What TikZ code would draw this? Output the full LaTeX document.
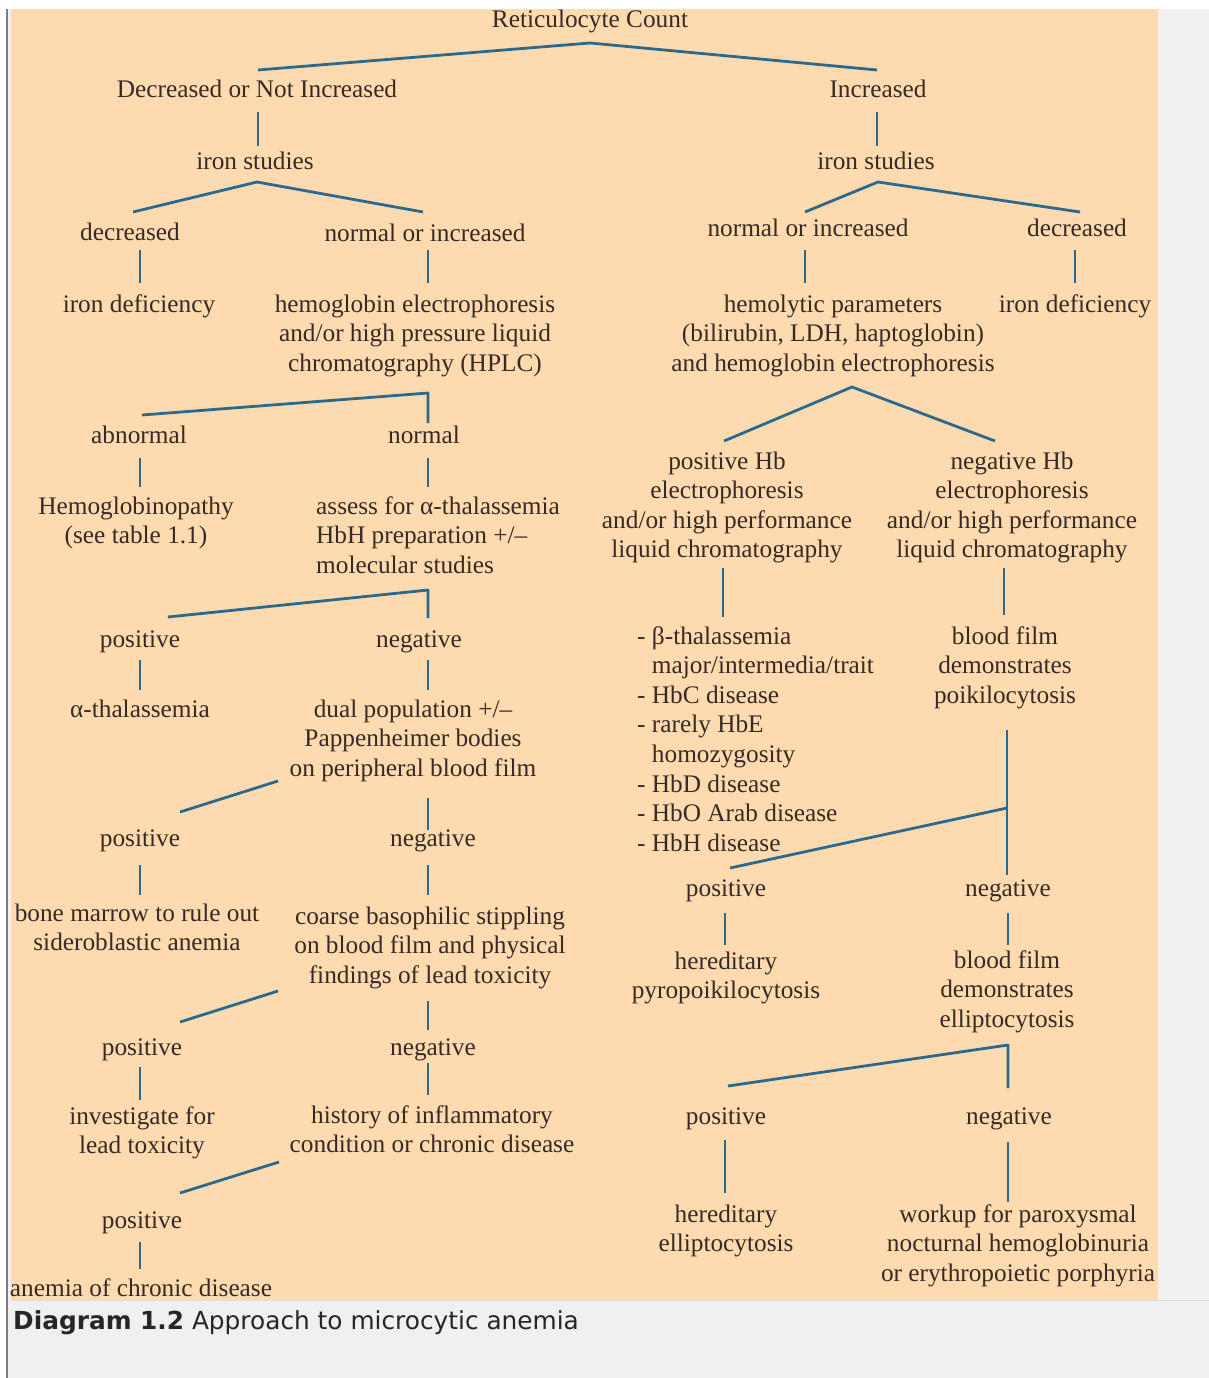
\documentclass[tikz,border=0pt]{standalone}
\usepackage{fontspec}
\setmainfont{Liberation Serif}
\newfontfamily\capfont{DejaVu Sans}
\definecolor{panel}{RGB}{253,218,176}
\definecolor{ink}{RGB}{55,42,36}
\definecolor{linecol}{RGB}{44,106,140}
\definecolor{pagegrey}{RGB}{240,240,240}
\definecolor{bordergrey}{RGB}{125,125,125}
\definecolor{sepgrey}{RGB}{220,220,220}
\begin{document}
\begin{tikzpicture}[x=1pt,y=-1pt,
  lbl/.style={font=\fontsize{25.3}{29.6}\selectfont, text=ink, inner sep=0pt, anchor=base, align=center},
  lbll/.style={lbl, align=left, anchor=base west},
  link/.style={draw=linecol, line width=2.8pt, line join=round}]
% page and panel
\useasboundingbox (0,0) rectangle (1209,1378);
\fill[white] (0,0) rectangle (1209,1378);
\fill[pagegrey] (8,9) rectangle (1209,1378);
\fill[panel] (11,9) rectangle (1158,1300);
\draw[sepgrey, line width=1pt] (11,1300.5) -- (1209,1300.5);
\draw[bordergrey, line width=2pt] (7,9) -- (7,1378);

% nodes (base anchor = baseline of the last line)
\node[lbl] (root) at (590,28) {Reticulocyte Count};
\node[lbl] (dni) at (257,98) {Decreased or Not Increased};
\node[lbl] (inc) at (878,98) {Increased};
\node[lbl] (ironL) at (255,169) {iron studies};
\node[lbl] (ironR) at (876,169) {iron studies};
\node[lbl] (decL) at (130,240) {decreased};
\node[lbl] (noiL) at (425,241) {normal or increased};
\node[lbl] (noiR) at (808,236) {normal or increased};
\node[lbl] (decR) at (1077,236) {decreased};
\node[lbl] (idL) at (139,312) {iron deficiency};
\node[lbl] (hplc) at (415,371.2) {hemoglobin electrophoresis\\and/or high pressure liquid\\chromatography (HPLC)};
\node[lbl] (hemo) at (833,371.2) {hemolytic parameters\\(bilirubin, LDH, haptoglobin)\\and hemoglobin electrophoresis};
\node[lbl] (idR) at (1075,312) {iron deficiency};
\node[lbl] (abn) at (139,443) {abnormal};
\node[lbl] (norm) at (424,443) {normal};
\node[lbl] (hbpathy) at (136,543.6) {Hemoglobinopathy\\(see table 1.1)};
\node[lbll] (assess) at (316,573.2) {assess for α-thalassemia\\HbH preparation +/–\\molecular studies};
\node[lbl] (posHb) at (727,557.8) {positive Hb\\electrophoresis\\and/or high performance\\liquid chromatography};
\node[lbl] (negHb) at (1012,557.8) {negative Hb\\electrophoresis\\and/or high performance\\liquid chromatography};
\node[lbl] (pos1) at (140,647) {positive};
\node[lbl] (neg1) at (419,647) {negative};
\node[lbl] (athal) at (140,717) {α-thalassemia};
\node[lbl] (dual) at (413,776.2) {dual population +/–\\Pappenheimer bodies\\on peripheral blood film};
\node[lbll] (list) at (637,851.2) {- β-thalassemia\\\phantom{- }major/intermedia/trait\\- HbC disease\\- rarely HbE\\\phantom{- }homozygosity\\- HbD disease\\- HbO Arab disease\\- HbH disease};
\node[lbl] (poik) at (1005,703.2) {blood film\\demonstrates\\poikilocytosis};
\node[lbl] (pos2) at (140,846) {positive};
\node[lbl] (neg2) at (433,846) {negative};
\node[lbl] (bone) at (137,950.6) {bone marrow to rule out\\sideroblastic anemia};
\node[lbl] (coarse) at (430,983.2) {coarse basophilic stippling\\on blood film and physical\\findings of lead toxicity};
\node[lbl] (posR1) at (726,896) {positive};
\node[lbl] (negR1) at (1008,896) {negative};
\node[lbl] (hpp) at (726,998.6) {hereditary\\pyropoikilocytosis};
\node[lbl] (bfe) at (1007,1027.2) {blood film\\demonstrates\\elliptocytosis};
\node[lbl] (pos3) at (142,1055) {positive};
\node[lbl] (neg3) at (433,1055) {negative};
\node[lbl] (invest) at (142,1153.6) {investigate for\\lead toxicity};
\node[lbl] (hist) at (432,1152.6) {history of inflammatory\\condition or chronic disease};
\node[lbl] (posR2) at (726,1124) {positive};
\node[lbl] (negR2) at (1009,1124) {negative};
\node[lbl] (he) at (726,1251.6) {hereditary\\elliptocytosis};
\node[lbl] (workup) at (1018,1281.2) {workup for paroxysmal\\nocturnal hemoglobinuria\\or erythropoietic porphyria};
\node[lbl] (pos4) at (142,1228) {positive};
\node[lbl] (acd) at (141,1296) {anemia of chronic disease};

\node[font=\capfont\fontsize{24.8}{28}\selectfont, text=black!85, anchor=base west, inner sep=0pt] (cap) at (13,1329) {\textbf{Diagram 1.2} Approach to microcytic anemia};

% connectors
\draw[link] ([shift={(1,-28)}]dni.base) -- ([shift={(0,15)}]root.base) -- ([shift={(-1,-28)}]inc.base);
\draw[link] ([shift={(1,14)}]dni.base) -- ([shift={(3,-23)}]ironL.base);
\draw[link] ([shift={(-1,14)}]inc.base) -- ([shift={(1,-23)}]ironR.base);
\draw[link] ([shift={(3,-28)}]decL.base) -- ([shift={(2,13)}]ironL.base) -- ([shift={(-2,-29)}]noiL.base);
\draw[link] ([shift={(-3,-24)}]noiR.base) -- ([shift={(2,13)}]ironR.base) -- ([shift={(3,-24)}]decR.base);
\draw[link] ([shift={(10,10)}]decL.base) -- ([shift={(1,-29)}]idL.base);
\draw[link] ([shift={(3,9)}]noiL.base) -- ([shift={(13,-88.2)}]hplc.base);
\draw[link] ([shift={(-3,14)}]noiR.base) -- ([shift={(-28,-88.2)}]hemo.base);
\draw[link] ([shift={(-2,14)}]decR.base) -- ([shift={(0,-29)}]idR.base);
\draw[link] ([shift={(3,-28)}]abn.base) -- ([shift={(13,21.8)}]hplc.base) -- ([shift={(4,-20)}]norm.base);
\draw[link] ([shift={(1,15)}]abn.base) -- ([shift={(4,-56.6)}]hbpathy.base);
\draw[link] ([shift={(4,15)}]norm.base) -- ([shift={(112,-86.2)}]assess.base west);
\draw[link] ([shift={(28,-30)}]pos1.base) -- ([shift={(112,16.8)}]assess.base west) -- ([shift={(9,-29)}]neg1.base);
\draw[link] ([shift={(0,13)}]pos1.base) -- ([shift={(0,-27)}]athal.base);
\draw[link] ([shift={(9,13)}]neg1.base) -- ([shift={(15,-86.2)}]dual.base);
\draw[link] ([shift={(-135,4.8)}]dual.base) -- ([shift={(40,-34)}]pos2.base);
\draw[link] ([shift={(15,21.8)}]dual.base) -- ([shift={(-5,-16)}]neg2.base);
\draw[link] ([shift={(0,19)}]pos2.base) -- ([shift={(3,-55.6)}]bone.base);
\draw[link] ([shift={(-5,19)}]neg2.base) -- ([shift={(-2,-88.2)}]coarse.base);
\draw[link] ([shift={(-152,7.8)}]coarse.base) -- ([shift={(38,-33)}]pos3.base);
\draw[link] ([shift={(-2,17.8)}]coarse.base) -- ([shift={(-5,-25)}]neg3.base);
\draw[link] ([shift={(-2,12)}]pos3.base) -- ([shift={(-2,-53.6)}]invest.base);
\draw[link] ([shift={(-5,8)}]neg3.base) -- ([shift={(-4,-57.6)}]hist.base);
\draw[link] ([shift={(-153,9.4)}]hist.base) -- ([shift={(38,-35)}]pos4.base);
\draw[link] ([shift={(-2,14)}]pos4.base) -- ([shift={(-1,-27)}]acd.base);
% right branch
\draw[link] ([shift={(-3,-116.8)}]posHb.base) -- ([shift={(19,15.8)}]hemo.base) -- ([shift={(-17,-116.8)}]negHb.base);
\draw[link] ([shift={(-4,10.2)}]posHb.base) -- ([shift={(86,-234.2)}]list.base west);
\draw[link] ([shift={(-8,10.2)}]negHb.base) -- ([shift={(-1,-88.2)}]poik.base);
\draw[link] ([shift={(2,26.8)}]poik.base) -- ([shift={(-1,-21)}]negR1.base);
\draw[link] ([shift={(2,104.8)}]poik.base) -- ([shift={(4,-28)}]posR1.base);
\draw[link] ([shift={(-1,17)}]posR1.base) -- ([shift={(-1,-53.6)}]hpp.base);
\draw[link] ([shift={(0,17)}]negR1.base) -- ([shift={(1,-82.2)}]bfe.base);
\draw[link] ([shift={(2,-38)}]posR2.base) -- ([shift={(1,17.8)}]bfe.base) -- ([shift={(-1,-36)}]negR2.base);
\draw[link] ([shift={(-1,16)}]posR2.base) -- ([shift={(-1,-58.6)}]he.base);
\draw[link] ([shift={(-1,18)}]negR2.base) -- ([shift={(-10,-79.2)}]workup.base);
\end{tikzpicture}
\end{document}
